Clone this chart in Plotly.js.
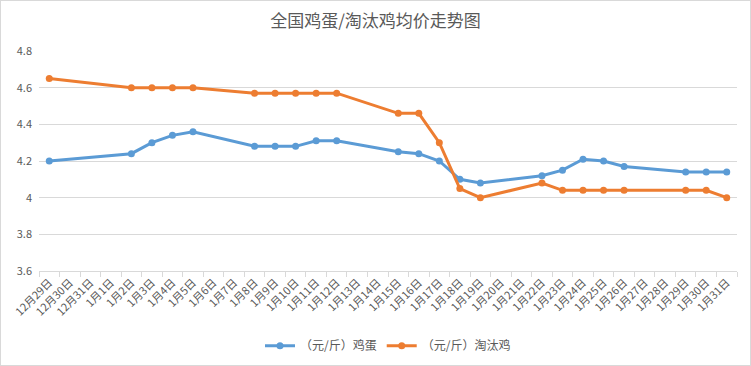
<!DOCTYPE html>
<html><head><meta charset="utf-8">
<script src="https://cdn.plot.ly/plotly-3.0.1.min.js"></script>
<style>
html,body{margin:0;padding:0;background:#fff;}
#wrap{width:751px;height:366px;box-sizing:border-box;border:1px solid #d9d9d9;overflow:hidden;}
#chart{width:749px;height:364px;}
</style></head>
<body><div id="wrap"><div id="chart"></div></div>
<script>
const dates = ["12月29日","12月30日","12月31日","1月1日","1月2日","1月3日","1月4日","1月5日","1月6日","1月7日","1月8日","1月9日","1月10日","1月11日","1月12日","1月13日","1月14日","1月15日","1月16日","1月17日","1月18日","1月19日","1月20日","1月21日","1月22日","1月23日","1月24日","1月25日","1月26日","1月27日","1月28日","1月29日","1月30日","1月31日"];
const eggPrice = [4.20,null,null,null,4.24,4.30,4.34,4.36,null,null,4.28,4.28,4.28,4.31,4.31,null,null,4.25,4.24,4.20,4.10,4.08,null,null,4.12,4.15,4.21,4.20,4.17,null,null,4.14,4.14,4.14];
const henPrice = [4.65,null,null,null,4.60,4.60,4.60,4.60,null,null,4.57,4.57,4.57,4.57,4.57,null,null,4.46,4.46,4.30,4.05,4.00,null,null,4.08,4.04,4.04,4.04,4.04,null,null,4.04,4.04,4.00];
const seriesNames = ["（元/斤）鸡蛋","（元/斤）淘汰鸡"];
const yTicks = [3.6,3.8,4,4.2,4.4,4.6,4.8];

const font = '"Noto Sans CJK SC", "Noto Sans", sans-serif';
const traces = [
  {x: dates, y: eggPrice, name: seriesNames[0], type: 'scatter', mode: 'lines+markers', connectgaps: true,
   line: {color: '#5B9BD5', width: 3}, marker: {color: '#5B9BD5', size: 7}},
  {x: dates, y: henPrice, name: seriesNames[1], type: 'scatter', mode: 'lines+markers', connectgaps: true,
   line: {color: '#ED7D31', width: 3}, marker: {color: '#ED7D31', size: 7}}
];
const layout = {
  width: 749, height: 364,
  margin: {l: 38, r: 13, t: 50, b: 94, autoexpand: false},
  paper_bgcolor: '#fff', plot_bgcolor: '#fff',
  font: {family: font, color: '#595959', size: 11},
  title: {text: '全国鸡蛋/淘汰鸡均价走势图', font: {size: 17, color: '#595959', family: font}, x: 0.5, xanchor: 'center', y: 0.945, yanchor: 'middle'},
  xaxis: {type: 'category', categoryorder: 'array', categoryarray: dates,
    tickangle: -45, tickfont: {size: 11, color: '#595959'},
    showgrid: false, showline: true, linecolor: '#d9d9d9', linewidth: 1,
    ticks: 'outside', tickson: 'boundaries', ticklen: 5, tickcolor: '#d9d9d9',
    range: [-0.5, dates.length - 0.5], fixedrange: true},
  yaxis: {range: [3.6, 4.8], tickvals: yTicks, ticktext: yTicks.map(v => String(v)),
    showgrid: true, gridcolor: '#d9d9d9', gridwidth: 1, zeroline: false, showline: false,
    tickfont: {size: 11, color: '#595959'}, ticks: '', ticklabelstandoff: 6, fixedrange: true},
  legend: {orientation: 'h', x: 0.5, xanchor: 'center', y: -0.34, yanchor: 'middle',
    font: {size: 12, color: '#595959'}},
  showlegend: true
};
Plotly.newPlot('chart', traces, layout, {displayModeBar: false, staticPlot: true});
</script></body></html>
